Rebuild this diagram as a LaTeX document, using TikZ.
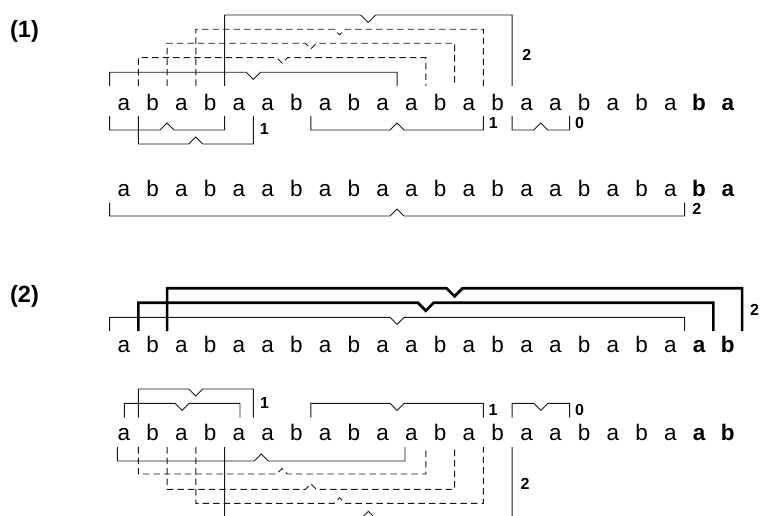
\documentclass[tikz,border=0pt]{standalone}
\usepackage{fontspec}
\setmainfont{Liberation Sans}
\tikzset{
  letter/.style={anchor=base, inner sep=0pt, font=\fontsize{22.5}{25}\selectfont},
  bletter/.style={anchor=base, inner sep=0pt, font=\fontsize{22.5}{25}\selectfont\bfseries},
  num/.style={inner sep=0pt, font=\fontsize{16}{18}\selectfont\bfseries},
  part/.style={inner sep=0pt, font=\fontsize{23.5}{26}\selectfont\bfseries},
  brk/.style={line width=0.9pt, black!90},
  dbrk/.style={line width=0.9pt, black!90, dash pattern=on 6.5pt off 4pt},
  tbrk/.style={line width=2.7pt, black},
}
% boundary before letter i
\newcommand{\bx}[1]{109.6+28.75*#1}
% bracket: style, x1, x2, y of line, y of vertical ends, signed notch depth
\newcommand{\bkt}[6]{%
  \pgfmathsetmacro{\bkXa}{#2}%
  \pgfmathsetmacro{\bkXb}{#3}%
  \pgfmathsetmacro{\bkXm}{(\bkXa+\bkXb)/2}%
  \pgfmathsetmacro{\bkW}{abs(#6)}%
  \pgfmathsetmacro{\bkYn}{#4+(#6)}%
  \draw[#1] (\bkXa,#5) -- (\bkXa,#4) -- ({\bkXm-\bkW},#4) -- (\bkXm,\bkYn)
    -- ({\bkXm+\bkW},#4) -- (\bkXb,#4) -- (\bkXb,#5);}
\begin{document}
\begin{tikzpicture}[x=1pt,y=-1pt]
\clip (0,0) rectangle (760,516);
\fill[white] (0,0) rectangle (760,516);

% part labels
\node[part] (p1) at (24.5,31.2) {(1)};
\node[part] (p2) at (24.5,296.7) {(2)};

% letter rows
\foreach \c [count=\i from 0] in {a,b,a,b,a,a,b,a,b,a,a,b,a,b,a,a,b,a,b,a} {
  \node[letter] (A\i) at ({124+28.75*\i},110.3) {\c};
  \node[letter] (B\i) at ({124+28.75*\i},196) {\c};
  \node[letter] (C\i) at ({124+28.75*\i},352.3) {\c};
  \node[letter] (D\i) at ({124+28.75*\i},440.8) {\c};
}
\node[bletter] (A20) at ({124+28.75*20},110.3) {b};
\node[bletter] (A21) at ({124+28.75*21},110.3) {a};
\node[bletter] (B20) at ({124+28.75*20},196) {b};
\node[bletter] (B21) at ({124+28.75*21},196) {a};
\node[bletter] (C20) at ({124+28.75*20},352.3) {a};
\node[bletter] (C21) at ({124+28.75*21},352.3) {b};
\node[bletter] (D20) at ({124+28.75*20},440.8) {a};
\node[bletter] (D21) at ({124+28.75*21},440.8) {b};

% ---------- part (1), row A, above ----------
\bkt{dbrk}{\bx{3}}{\bx{13}}{29.3}{86}{5.5}
\bkt{dbrk}{\bx{2}}{\bx{12}}{43.3}{86}{5.5}
\bkt{dbrk}{\bx{1}}{\bx{11}}{57.7}{86}{5.5}
\bkt{brk}{\bx{0}}{\bx{10}}{72.3}{86}{7}
\bkt{brk}{\bx{4}}{\bx{14}}{15}{86}{7.5}
\node[num] (l1a) at (526.7,55) {2};

% row A, below
\bkt{brk}{\bx{0}}{\bx{4}}{130}{116}{-7}
\bkt{brk}{\bx{1}}{\bx{5}}{144}{116}{-7}
\node[num] (l1b) at (264.2,128.5) {1};
\bkt{brk}{\bx{7}}{\bx{13}}{130}{116}{-7}
\node[num] (l1c) at (493.3,122.8) {1};
\bkt{brk}{\bx{14}}{\bx{16}}{130}{116}{-7}
\node[num] (l1d) at (579.5,123.3) {0};

% row B, below
\bkt{brk}{\bx{0}}{\bx{20}}{216}{202.5}{-7}
\node[num] (l1e) at (696.7,208.8) {2};

% ---------- part (2), row C, above ----------
\bkt{brk}{\bx{0}}{\bx{20}}{317.3}{331}{7}
\bkt{tbrk}{\bx{1}}{\bx{21}}{302.7}{331}{8}
\bkt{tbrk}{\bx{2}}{\bx{22}}{288.3}{331}{8}
\node[num] (l2a) at (754.5,310) {2};

% row D, above
\bkt{brk}{124.3}{240}{403.3}{417.7}{7}
\bkt{brk}{\bx{1}}{\bx{5}}{389}{417.7}{7}
\node[num] (l2b) at (264.5,402.8) {1};
\bkt{brk}{\bx{7}}{\bx{13}}{403.3}{417.7}{7}
\node[num] (l2c) at (493,410) {1};
\bkt{brk}{\bx{14}}{\bx{16}}{403.3}{417.7}{7}
\node[num] (l2d) at (579.6,410) {0};

% row D, below
\bkt{brk}{117.3}{405}{461}{447}{-7}
\bkt{dbrk}{\bx{1}}{\bx{11}}{474}{447}{-5.5}
\bkt{dbrk}{\bx{2}}{\bx{12}}{489.3}{447}{-5.5}
\bkt{dbrk}{\bx{3}}{\bx{13}}{503.3}{447}{-5.5}
\bkt{brk}{\bx{4}}{\bx{14}}{518.8}{447}{-7.5}
\node[num] (l2e) at (525,483.8) {2};
\end{tikzpicture}
\end{document}
